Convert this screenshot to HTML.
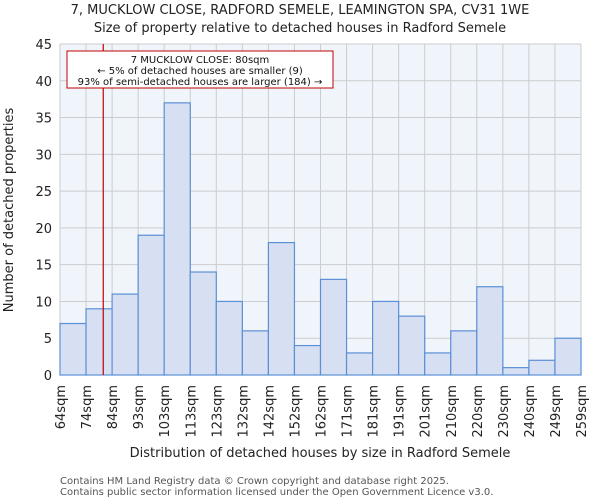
<!DOCTYPE html>
<html><head><meta charset="utf-8"><style>
body{margin:0;background:#fff;font-family:"DejaVu Sans","Liberation Sans",sans-serif;}
</style></head><body>
<svg width="600" height="500" xmlns="http://www.w3.org/2000/svg" font-family="DejaVu Sans, Liberation Sans, sans-serif">
<g id="root"></g>
</svg>
<script>
const categories=["64sqm","74sqm","84sqm","93sqm","103sqm","113sqm","123sqm","132sqm","142sqm","152sqm","162sqm","171sqm","181sqm","191sqm","201sqm","210sqm","220sqm","230sqm","240sqm","249sqm","259sqm"];
const counts=[7,9,11,19,37,14,10,6,18,4,13,3,10,8,3,6,12,1,2,5];
const yTicks=[0,5,10,15,20,25,30,35,40,45];
const markerBin=1.66;
const L=60,R=581,T=44,B=375,yMax=45;
const n=counts.length,bw=(R-L)/n;
const x=i=>L+i*bw, y=v=>B-(v/yMax)*(B-T);
const NS="http://www.w3.org/2000/svg",root=document.getElementById('root');
function mk(t,a,txt){const e=document.createElementNS(NS,t);for(const k in a)e.setAttribute(k,a[k]);if(txt!==undefined)e.textContent=txt;root.appendChild(e);return e;}
let e;
e=mk('rect',{x:L,y:T,width:R-L,height:B-T,fill:'#f0f4fb'});


for(let i=0;i<=n;i++){e=mk('line',{x1:x(i),x2:x(i),y1:T,y2:B,stroke:'#cccccc','stroke-width':1});

}
yTicks.forEach(v=>{e=mk('line',{x1:L,x2:R,y1:y(v),y2:y(v),stroke:'#cccccc','stroke-width':1});


e=mk('text',{x:L-8,y:y(v)+5,'text-anchor':'end','font-size':13,fill:'#222'},String(v));

});
counts.forEach((c,i)=>{e=mk('rect',{x:x(i),y:y(c),width:bw,height:B-y(c),fill:'#d6e0f2',stroke:'#5b8fd6','stroke-width':1.2});

});
categories.forEach((c,i)=>{e=mk('text',{transform:`translate(${x(i)+5},${B+10}) rotate(-90)`,'text-anchor':'end','font-size':13,fill:'#222'},c);

});
e=mk('line',{x1:x(markerBin),x2:x(markerBin),y1:T,y2:B,stroke:'#c00000','stroke-width':1.2});


e=mk('rect',{x:67,y:51,width:266,height:37,fill:'#fff',stroke:'#c00000','stroke-width':1});


[["7 MUCKLOW CLOSE: 80sqm",63],["← 5% of detached houses are smaller (9)",74],["93% of semi-detached houses are larger (184) →",85]].forEach(a=>{e=mk('text',{x:200,y:a[1],'text-anchor':'middle','font-size':10,fill:'#111'},a[0]);

});
e=mk('text',{x:300,y:14,'text-anchor':'middle','font-size':13,fill:'#222'},"7, MUCKLOW CLOSE, RADFORD SEMELE, LEAMINGTON SPA, CV31 1WE");


e=mk('text',{x:300,y:32,'text-anchor':'middle','font-size':13,fill:'#222'},"Size of property relative to detached houses in Radford Semele");


e=mk('text',{x:320,y:457,'text-anchor':'middle','font-size':13,fill:'#222'},"Distribution of detached houses by size in Radford Semele");


e=mk('text',{transform:'translate(13,210) rotate(-90)','text-anchor':'middle','font-size':13,fill:'#222'},"Number of detached properties");


e=mk('text',{x:60,y:484,'font-size':10,fill:'#555'},"Contains HM Land Registry data © Crown copyright and database right 2025.");


e=mk('text',{x:60,y:495,'font-size':10,fill:'#555'},"Contains public sector information licensed under the Open Government Licence v3.0.");


</script>
</body></html>
